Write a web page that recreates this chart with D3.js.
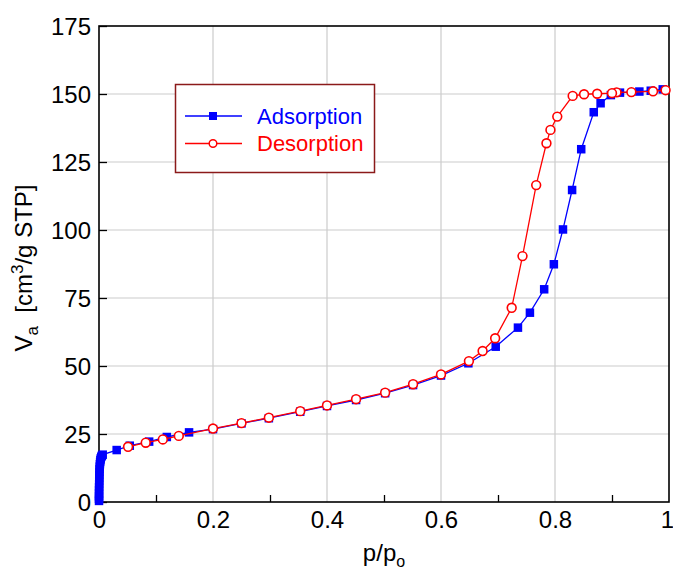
<!DOCTYPE html>
<html>
<head>
<meta charset="utf-8">
<script src="https://cdn.jsdelivr.net/npm/d3@7"></script>
<style>
  html, body { margin: 0; padding: 0; background: #fff; }
  svg { display: block; font-family: "Liberation Sans", Arial, sans-serif; }
</style>
</head>
<body>
<svg id="chart" width="673" height="572"></svg>
<script>
// Nitrogen isotherm: relative pressure p/po vs. adsorbed volume (cm3/g STP)
const adsP = [0.00002, 0.00004, 0.00006, 0.0001, 0.00015, 0.0002, 0.0003, 0.0004, 0.0005, 0.0006,
  0.0008, 0.001, 0.0013, 0.0016, 0.002, 0.0025, 0.003, 0.004, 0.005, 0.0065,
  0.031, 0.054, 0.088, 0.119, 0.158, 0.2, 0.25, 0.298, 0.353, 0.4, 0.451, 0.502, 0.551, 0.6,
  0.648, 0.696, 0.735, 0.756, 0.781, 0.798, 0.814, 0.830, 0.846, 0.868, 0.880, 0.898, 0.914,
  0.948, 0.968, 0.989];
const adsV = [0.4, 1.2, 2.1, 3.2, 4.3, 5.4, 6.5, 7.6, 8.7, 9.8,
  10.9, 12.0, 13.0, 13.9, 14.7, 15.4, 16.0, 16.6, 17.0, 17.4,
  19.1, 20.7, 22.2, 23.9, 25.6, 26.8, 28.9, 30.8, 33.2, 35.3, 37.5, 40.0, 43.0, 46.5,
  51.0, 57.1, 64.1, 69.6, 78.2, 87.4, 100.2, 114.7, 129.7, 143.3, 146.6, 149.6, 150.5,
  150.9, 151.2, 151.7];

const desP = [0.994, 0.972, 0.934, 0.908, 0.9, 0.874, 0.851, 0.831, 0.804, 0.792, 0.785, 0.767,
  0.743, 0.724, 0.695, 0.673, 0.649, 0.6, 0.551, 0.502, 0.451, 0.4, 0.353, 0.298, 0.25,
  0.2, 0.140, 0.112, 0.082, 0.051];
const desV = [151.4, 151.0, 150.7, 150.6, 150.3, 150.1, 149.9, 149.3, 141.7, 136.8, 131.9, 116.5,
  90.4, 71.4, 60.2, 55.5, 51.8, 46.9, 43.3, 40.2, 37.8, 35.5, 33.4, 31.0, 29.0,
  27.0, 24.3, 23.0, 21.8, 20.3];

const xTicks = [0, 0.2, 0.4, 0.6, 0.8, 1];
const xTickLabels = ["0", "0.2", "0.4", "0.6", "0.8", "1"];
const xMinorTicks = [0.1, 0.3, 0.5, 0.7, 0.9];
const yTicks = [0, 25, 50, 75, 100, 125, 150, 175];

const seriesNames = ["Adsorption", "Desorption"];
const seriesColors = ["#0000ff", "#ff0000"];

const svg = d3.select("#chart");
const margin = { left: 99, top: 26, right: 4, bottom: 70 };
const W = 673, H = 572;
const x0 = margin.left, x1 = W - margin.right, y0 = margin.top, y1 = H - margin.bottom;

const x = d3.scaleLinear().domain([0, 1]).range([x0, x1]);
const y = d3.scaleLinear().domain([0, 175]).range([y1, y0]);

// grid
const grid = svg.append("g").attr("stroke", "#cccccc").attr("stroke-width", 1.2);
grid.selectAll("line.gx").data(xTicks.slice(1, -1)).join("line")
  .attr("x1", d => x(d)).attr("x2", d => x(d)).attr("y1", y0).attr("y2", y1);
grid.selectAll("line.gy").data(yTicks.slice(1, -1)).join("line")
  .attr("x1", x0).attr("x2", x1).attr("y1", d => y(d)).attr("y2", d => y(d));

// axes: bottom with minor inward ticks, left with major inward ticks
const xAxis = d3.axisBottom(x).tickValues(xMinorTicks).tickSize(-7).tickFormat("");
const gx = svg.append("g").attr("transform", `translate(0,${y1})`).call(xAxis);
gx.select(".domain").remove();
gx.selectAll(".tick line").attr("stroke", "#000").attr("stroke-width", 1.3);

const gxl = svg.append("g").attr("transform", `translate(0,${y1})`)
  .call(d3.axisBottom(x).tickValues(xTicks).tickSize(0).tickPadding(9)
    .tickFormat((d, i) => xTickLabels[i]));
gxl.select(".domain").remove();
gxl.selectAll("text").attr("font-size", 24).attr("fill", "#000")
  .attr("font-family", "Liberation Sans, Arial, sans-serif")
  .attr("dx", d => (d === 1 ? -2 : 0));

const gy = svg.append("g").attr("transform", `translate(${x0},0)`)
  .call(d3.axisLeft(y).tickValues(yTicks).tickSize(-8).tickPadding(8));
gy.select(".domain").remove();
gy.selectAll(".tick line").attr("stroke", "#000").attr("stroke-width", 1.3);
gy.selectAll("text").attr("font-size", 24).attr("fill", "#000").attr("dy", "0.36em")
  .attr("font-family", "Liberation Sans, Arial, sans-serif");

// frame
svg.append("rect").attr("x", x0).attr("y", y0).attr("width", x1 - x0).attr("height", y1 - y0)
  .attr("fill", "none").attr("stroke", "#000").attr("stroke-width", 1.6);

// axis titles
const xt = svg.append("text").attr("x", (x0 + x1) / 2).attr("y", 561)
  .attr("text-anchor", "middle").attr("font-size", 24).attr("fill", "#000");
xt.append("tspan").text("p/p");
xt.append("tspan").attr("font-size", 16).attr("dy", 6).text("o");

const yt = svg.append("text").attr("transform", `translate(32,${(y0 + y1) / 2 + 4}) rotate(-90)`)
  .attr("text-anchor", "middle").attr("font-size", 24).attr("fill", "#000");
yt.append("tspan").text("V");
yt.append("tspan").attr("font-size", 17).attr("dy", 6).text("a");
yt.append("tspan").attr("dy", -6).text("\u00a0 [cm");
yt.append("tspan").attr("font-size", 17).attr("dy", -9).text("3");
yt.append("tspan").attr("dy", 9).text("/g STP]");

const line = d3.line().x(d => x(d[0])).y(d => y(d[1]));
const ads = adsP.map((p, i) => [p, adsV[i]]);
const des = desP.map((p, i) => [p, desV[i]]);

// adsorption branch
svg.append("path").datum(ads).attr("d", line).attr("fill", "none")
  .attr("stroke", seriesColors[0]).attr("stroke-width", 1.3);
svg.append("g").selectAll("rect").data(ads).join("rect")
  .attr("x", d => x(d[0]) - 4.25).attr("y", d => y(d[1]) - 4.25)
  .attr("width", 8.5).attr("height", 8.5).attr("fill", seriesColors[0]);

// desorption branch
svg.append("path").datum(des).attr("d", line).attr("fill", "none")
  .attr("stroke", seriesColors[1]).attr("stroke-width", 1.3);
svg.append("g").selectAll("circle").data(des).join("circle")
  .attr("cx", d => x(d[0])).attr("cy", d => y(d[1])).attr("r", 4.4)
  .attr("fill", "#fff").attr("stroke", seriesColors[1]).attr("stroke-width", 1.6);

// legend
const lg = svg.append("g");
lg.append("rect").attr("x", 175.5).attr("y", 84.5).attr("width", 199).attr("height", 88)
  .attr("fill", "#fff").attr("stroke", "#8b1a1a").attr("stroke-width", 1.5);
seriesNames.forEach((name, i) => {
  const ly = 116 + i * 27.5;
  lg.append("line").attr("x1", 185).attr("x2", 242).attr("y1", ly).attr("y2", ly)
    .attr("stroke", seriesColors[i]).attr("stroke-width", 1.3);
  if (i === 0) {
    lg.append("rect").attr("x", 209).attr("y", ly - 4).attr("width", 8).attr("height", 8)
      .attr("fill", seriesColors[i]);
  } else {
    lg.append("circle").attr("cx", 213).attr("cy", ly).attr("r", 3.8)
      .attr("fill", "#fff").attr("stroke", seriesColors[i]).attr("stroke-width", 1.5);
  }
  lg.append("text").attr("x", 257).attr("y", ly + 7.5).attr("font-size", 22)
    .attr("fill", seriesColors[i]).text(name);
});
</script>
</body>
</html>
